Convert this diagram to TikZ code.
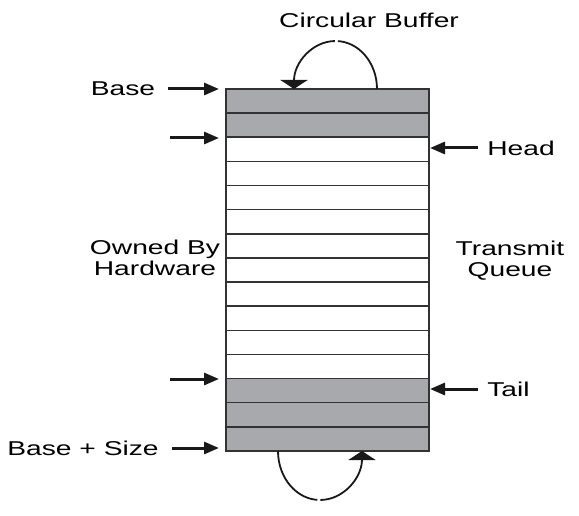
\documentclass[tikz,border=0pt]{standalone}
\usepackage{fontspec}
\setmainfont{Liberation Sans}
\usetikzlibrary{arrows.meta}
\definecolor{slotgray}{HTML}{A7A9AC}
\definecolor{slotline}{HTML}{333333}
\tikzset{
  slot/.style={draw=slotline, line width=1.6pt, minimum width=203pt,
    minimum height=24.13pt, inner sep=0pt, outer sep=0pt},
  lbl/.style={font=\fontsize{20}{21}\selectfont, align=center,
    xscale=1.41, transform shape, inner sep=0pt},
  ptr/.style={line width=3pt, draw=black!90,
    -{Triangle[length=15pt,width=12pt]}},
  wrap/.style={line width=1.8pt, draw=black!90,
    -{Triangle[length=9pt,width=27pt]}}
}
\begin{document}
\begin{tikzpicture}[x=1pt,y=-1pt]
        \useasboundingbox (0,0) rectangle (579,516);
        % queue slots
        \foreach \i in {1,2,13,14,15}
          \node[slot, fill=slotgray] (r\i) at (327.5,{89+24.13*(\i-0.5)}) {};
        \foreach \i in {3,...,12}
          \node[slot, fill=white] (r\i) at (327.5,{89+24.13*(\i-0.5)}) {};
        % labels
        \node[lbl] (title) at (369,20) {Circular Buffer};
        \node[lbl] (base) at (123,89) {Base};
        \node[lbl] (bsize) at (83,448) {Base + Size};
        \node[lbl, anchor=west] (head) at (487,148) {Head};
        \node[lbl, anchor=west] (tail) at (487,389) {Tail};
        \node[lbl] (owned) at (155,258) {Owned By\\Hardware};
        \node[lbl] (txq) at (510,261) {Transmit\\Queue};
        % pointers
        \coordinate (p1) at (170,138);
        \coordinate (p2) at (170,379);
        \draw[ptr, shorten <=13pt, shorten >=7pt] (base.east) -- (base.east -| r1.west);
        \draw[ptr, shorten >=7pt] (p1) -- (p1 -| r3.west);
        \draw[ptr, shorten >=7pt] (p2) -- (p2 -| r13.west);
        \draw[ptr, shorten <=13pt, shorten >=7pt] (bsize.east) -- (bsize.east -| r15.west);
        \draw[ptr, shorten <=9pt, shorten >=1pt] (head.west) -- (head.west -| r3.east);
        \draw[ptr, shorten <=9pt, shorten >=1pt] (tail.west) -- (tail.west -| r13.east);
        % wrap around
        \coordinate (topR) at (377,89);
        \coordinate (botL) at (278,451);
        \draw[wrap, dash pattern=on 68pt off 3pt on 300pt]
          (topR) arc[start angle=0, end angle=-180, x radius=41.5, y radius=48];
        \draw[wrap, dash pattern=on 69pt off 3pt on 300pt]
          (botL) arc[start angle=180, end angle=0, x radius=42, y radius=49];
      \end{tikzpicture}
\end{document}
